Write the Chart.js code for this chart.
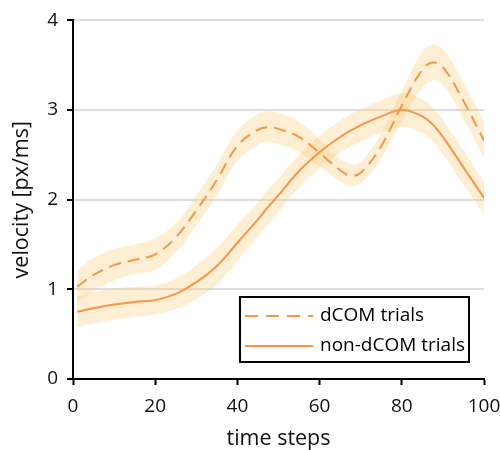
<!doctype html>
<html lang="en">
<head>
<meta charset="utf-8">
<title>velocity</title>
<style>
  html, body { margin: 0; padding: 0; background: #fff; overflow: hidden; }
  #wrap { width: 500px; height: 450px; position: relative; }
</style>
</head>
<body>
<div id="wrap"><canvas id="chart"></canvas></div>
<script src="https://cdn.jsdelivr.net/npm/chart.js"></script>
<script>
const steps = [1, 5, 10, 15, 20, 25, 30, 35, 40, 45, 47.5, 50, 55, 60, 65, 67.5, 70, 75, 80, 85, 87.5, 90, 95, 100]

const dcomMean  = [1.03, 1.16, 1.27, 1.33, 1.39, 1.58, 1.88, 2.22, 2.60, 2.78, 2.81, 2.79, 2.70, 2.52, 2.33, 2.27, 2.30, 2.60, 3.05, 3.45, 3.53, 3.48, 3.10, 2.66]
const dcomUpper = [1.21, 1.35, 1.45, 1.50, 1.57, 1.74, 2.05, 2.39, 2.77, 2.96, 2.99, 2.97, 2.87, 2.67, 2.46, 2.40, 2.42, 2.74, 3.22, 3.65, 3.73, 3.68, 3.30, 2.88]
const dcomLower = [0.86, 0.98, 1.10, 1.17, 1.22, 1.41, 1.71, 2.05, 2.43, 2.61, 2.64, 2.62, 2.53, 2.37, 2.20, 2.15, 2.18, 2.46, 2.88, 3.25, 3.33, 3.28, 2.90, 2.47]

const nonMean  = [0.75, 0.79, 0.83, 0.86, 0.88, 0.95, 1.08, 1.26, 1.52, 1.78, 1.92, 2.05, 2.32, 2.53, 2.70, 2.77, 2.83, 2.93, 3.00, 2.93, 2.84, 2.70, 2.36, 2.02]
const nonUpper = [0.92, 0.97, 1.01, 1.03, 1.04, 1.12, 1.27, 1.46, 1.72, 1.97, 2.11, 2.24, 2.50, 2.71, 2.88, 2.95, 3.01, 3.11, 3.19, 3.12, 3.03, 2.89, 2.55, 2.20]
const nonLower = [0.58, 0.62, 0.66, 0.69, 0.72, 0.78, 0.89, 1.06, 1.32, 1.59, 1.73, 1.86, 2.14, 2.35, 2.52, 2.59, 2.65, 2.75, 2.81, 2.74, 2.65, 2.51, 2.17, 1.84]

const xTicks = [0, 20, 40, 60, 80, 100]
const yTicks = [0, 1, 2, 3, 4]

const lineColor = 'rgb(247, 150, 70)'
const bandColor = 'rgba(252, 205, 130, 0.35)'
const fontFamily = '"Open Sans", "Noto Sans", sans-serif'

const pts = (ys) => steps.map((x, i) => ({ x: x, y: ys[i] }))

// legend box inside the plot, lower right
const boxLegend = {
  id: 'boxLegend',
  afterDraw(chart) {
    const { ctx, chartArea } = chart
    const right = chartArea.right - 15
    const bottom = chartArea.bottom - 17
    const w = 229, h = 65
    const left = right - w, top = bottom - h
    ctx.save()
    ctx.fillStyle = '#fff'
    ctx.fillRect(left, top, w, h)
    ctx.strokeStyle = '#000'
    ctx.lineWidth = 2
    ctx.strokeRect(left, top, w, h)
    const rows = [
      { text: 'dCOM trials', dash: [13, 8], y: top + 19 },
      { text: 'non-dCOM trials', dash: [], y: top + 49 }
    ]
    rows.forEach((r) => {
      ctx.strokeStyle = lineColor
      ctx.lineWidth = 2
      ctx.setLineDash(r.dash)
      ctx.beginPath()
      ctx.moveTo(left + 5, r.y)
      ctx.lineTo(left + 73, r.y)
      ctx.stroke()
      ctx.setLineDash([])
      ctx.fillStyle = '#000'
      ctx.font = '19px ' + fontFamily
      ctx.textBaseline = 'middle'
      ctx.fillText(r.text, left + 80, r.y)
    })
    ctx.restore()
  }
}

const band = (ys, fill) => ({
  label: '',
  data: pts(ys),
  borderWidth: 0,
  borderColor: 'transparent',
  backgroundColor: bandColor,
  pointRadius: 0,
  fill: fill,
  tension: 0.4,
  order: 1
})

new Chart(document.getElementById('chart'), {
  type: 'line',
  data: {
    datasets: [
      {
        label: 'dCOM trials',
        data: pts(dcomMean),
        borderColor: lineColor,
        borderWidth: 2,
        borderDash: [12, 7],
        pointRadius: 0,
        fill: false,
        tension: 0.4,
        order: 0
      },
      {
        label: 'non-dCOM trials',
        data: pts(nonMean),
        borderColor: lineColor,
        borderWidth: 2,
        pointRadius: 0,
        fill: false,
        tension: 0.4,
        order: 0
      },
      band(dcomUpper, '+1'),
      band(dcomLower, false),
      band(nonUpper, '+1'),
      band(nonLower, false)
    ]
  },
  options: {
    responsive: true,
    maintainAspectRatio: false,
    animation: false,
    layout: { padding: { top: 8, left: 9, right: 0, bottom: 0 } },
    plugins: {
      legend: { display: false },
      tooltip: { enabled: false }
    },
    scales: {
      x: {
        type: 'linear',
        min: 0,
        max: 100,
        afterBuildTicks: (axis) => { axis.ticks = xTicks.map((v) => ({ value: v })) },
        afterFit: (axis) => { axis.height = 71; axis.paddingRight = 16 },
        grid: { drawOnChartArea: false, tickColor: '#000', tickLength: 6, tickWidth: 2 },
        border: { color: '#000', width: 2 },
        ticks: { color: '#111', font: { family: fontFamily, size: 19 }, padding: 10, maxRotation: 0 },
        title: { display: true, text: 'time steps', color: '#111', font: { family: fontFamily, size: 21.5 }, padding: { top: 1, bottom: -2 } }
      },
      y: {
        min: 0,
        max: 4,
        afterBuildTicks: (axis) => { axis.ticks = yTicks.map((v) => ({ value: v })) },
        afterFit: (axis) => { axis.width = 64 },
        grid: { color: '#dddddd', lineWidth: 2, tickColor: '#000', tickLength: 6, tickWidth: 2 },
        border: { color: '#000', width: 2 },
        ticks: { color: '#111', font: { family: fontFamily, size: 19 }, padding: 9 },
        title: { display: true, text: 'velocity [px/ms]', color: '#111', font: { family: fontFamily, size: 21.5 }, padding: { top: 0, bottom: 6 } }
      }
    }
  },
  plugins: [boxLegend]
})
</script>
</body>
</html>
